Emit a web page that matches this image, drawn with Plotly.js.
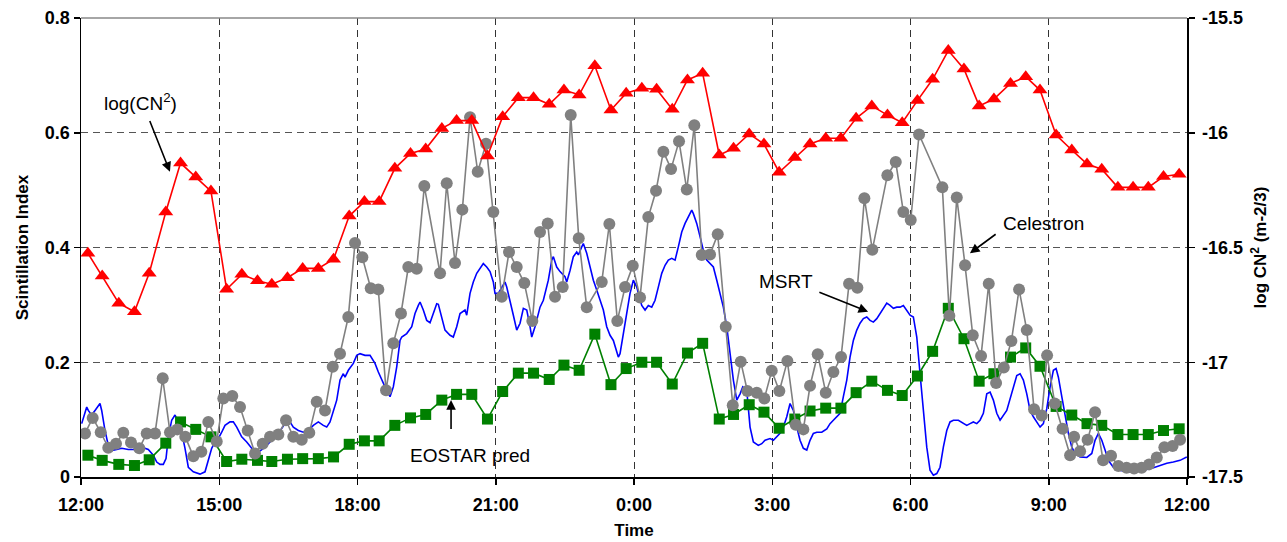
<!DOCTYPE html>
<html>
<head>
<meta charset="utf-8">
<script src="https://cdn.plot.ly/plotly-3.0.1.min.js"></script>
<style>
html,body{margin:0;padding:0;background:#fff;}
#chart{width:1287px;height:542px;}
</style>
</head>
<body>
<div id="chart"></div>
<script>
// ---- data (x = hours after 12:00) ----
var xTickVals = [0, 3, 6, 9, 12, 15, 18, 21, 24];
var xTickText = ["12:00", "15:00", "18:00", "21:00", "0:00", "3:00", "6:00", "9:00", "12:00"];
var y2TickVals = [-17.5, -17, -16.5, -16, -15.5];
var y2TickText = ["-17.5", "-17", "-16.5", "-16", "-15.5"];

var predTime = [0.15,0.46,0.82,1.16,1.48,1.84,2.16,2.49,2.82,3.16,3.49,3.83,4.14,4.48,4.81,5.15,5.48,5.82,6.15,6.47,6.81,7.15,7.48,7.83,8.15,8.48,8.82,9.15,9.49,9.82,10.16,10.48,10.81,11.15,11.50,11.83,12.17,12.49,12.83,13.16,13.49,13.85,14.16,14.50,14.82,15.15,15.49,15.82,16.16,16.49,16.82,17.16,17.50,17.82,18.15,18.48,18.82,19.16,19.49,19.81,20.17,20.50,20.81,21.16,21.50,21.83,22.15,22.50,22.83,23.16,23.49,23.83];

var logCn2 = [-16.525,-16.624,-16.743,-16.780,-16.612,-16.345,-16.132,-16.193,-16.254,-16.682,-16.617,-16.645,-16.660,-16.632,-16.591,-16.591,-16.551,-16.363,-16.300,-16.300,-16.155,-16.090,-16.071,-15.981,-15.947,-15.947,-16.101,-15.930,-15.847,-15.847,-15.876,-15.814,-15.835,-15.708,-15.901,-15.828,-15.806,-15.811,-15.898,-15.770,-15.741,-16.097,-16.068,-16.005,-16.049,-16.172,-16.108,-16.049,-16.024,-16.024,-15.937,-15.883,-15.923,-15.956,-15.860,-15.767,-15.642,-15.722,-15.883,-15.853,-15.785,-15.756,-15.814,-16.010,-16.075,-16.136,-16.159,-16.238,-16.238,-16.238,-16.191,-16.181];

var eostarPred = [0.038,0.029,0.022,0.020,0.030,0.059,0.096,0.083,0.070,0.027,0.031,0.029,0.027,0.031,0.032,0.032,0.035,0.057,0.063,0.063,0.090,0.103,0.109,0.134,0.144,0.144,0.101,0.149,0.181,0.181,0.170,0.195,0.186,0.249,0.161,0.189,0.200,0.200,0.162,0.216,0.233,0.101,0.109,0.126,0.113,0.085,0.101,0.115,0.120,0.120,0.147,0.167,0.151,0.142,0.176,0.219,0.294,0.241,0.167,0.180,0.209,0.225,0.193,0.123,0.108,0.093,0.090,0.074,0.074,0.074,0.081,0.084];

var celTime = [0.087,0.254,0.428,0.592,0.760,0.918,1.085,1.265,1.426,1.606,1.773,1.931,2.090,2.263,2.437,2.611,2.763,2.945,3.088,3.283,3.451,3.618,3.776,3.943,4.102,4.282,4.449,4.607,4.790,4.954,5.115,5.295,5.462,5.621,5.801,5.946,6.105,6.287,6.452,6.619,6.777,6.944,7.103,7.285,7.450,7.791,7.936,8.116,8.275,8.442,8.609,8.789,8.947,9.130,9.288,9.455,9.620,9.794,9.961,10.128,10.286,10.453,10.627,10.801,10.974,11.300,11.465,11.638,11.806,11.973,12.131,12.311,12.478,12.637,12.804,12.977,13.145,13.309,13.470,13.650,13.817,13.991,14.143,14.316,14.460,14.664,14.829,14.989,15.154,15.328,15.510,15.675,15.820,15.987,16.161,16.326,16.493,16.667,16.847,16.999,17.172,17.498,17.680,17.845,18.005,18.186,18.691,18.843,19.004,19.184,19.351,19.531,19.698,19.857,20.024,20.189,20.356,20.523,20.681,20.848,20.964,21.131,21.300,21.463,21.550,21.680,21.843,22.005,22.179,22.352,22.511,22.689,22.852,23.015,23.177,23.344,23.509,23.687,23.850];
var celestron = [0.076,0.103,0.078,0.051,0.058,0.077,0.060,0.050,0.076,0.076,0.172,0.078,0.083,0.070,0.036,0.044,0.096,0.062,0.137,0.141,0.122,0.081,0.041,0.058,0.070,0.074,0.099,0.070,0.065,0.077,0.131,0.116,0.192,0.215,0.279,0.408,0.383,0.329,0.327,0.151,0.233,0.285,0.366,0.363,0.507,0.355,0.512,0.373,0.466,0.627,0.532,0.581,0.462,0.314,0.392,0.366,0.338,0.272,0.427,0.442,0.314,0.331,0.631,0.416,0.296,0.340,0.441,0.272,0.331,0.368,0.313,0.453,0.499,0.567,0.537,0.585,0.501,0.613,0.387,0.388,0.423,0.262,0.125,0.201,0.150,0.147,0.137,0.185,0.150,0.202,0.091,0.083,0.159,0.214,0.147,0.183,0.209,0.337,0.330,0.486,0.396,0.526,0.549,0.462,0.448,0.597,0.505,0.281,0.487,0.369,0.247,0.211,0.337,0.164,0.191,0.237,0.327,0.256,0.118,0.107,0.212,0.128,0.084,0.038,0.070,0.045,0.065,0.113,0.029,0.037,0.019,0.016,0.015,0.016,0.022,0.034,0.052,0.054,0.065];

var msrtTime = [0.015,0.087,0.124,0.158,0.232,0.304,0.375,0.412,0.449,0.521,0.592,0.666,0.775,0.883,1.026,1.172,1.317,1.460,1.569,1.643,1.714,1.786,1.845,1.895,1.968,2.040,2.112,2.185,2.257,2.329,2.437,2.582,2.691,2.763,2.836,2.908,2.980,3.053,3.125,3.234,3.305,3.379,3.487,3.596,3.704,3.813,3.884,3.993,4.138,4.282,4.427,4.536,4.607,4.716,4.824,4.933,5.041,5.150,5.258,5.332,5.404,5.475,5.549,5.621,5.692,5.729,5.801,5.909,5.983,6.055,6.163,6.272,6.380,6.452,6.526,6.597,6.706,6.777,6.851,6.923,6.960,7.068,7.177,7.248,7.320,7.357,7.428,7.502,7.574,7.645,7.719,7.754,7.828,7.899,8.008,8.079,8.153,8.225,8.333,8.370,8.442,8.513,8.587,8.659,8.730,8.804,8.876,8.947,8.984,9.056,9.130,9.201,9.238,9.310,9.382,9.455,9.527,9.599,9.673,9.744,9.781,9.852,9.961,10.033,10.141,10.215,10.250,10.323,10.395,10.503,10.540,10.612,10.684,10.757,10.792,10.866,10.900,10.974,11.046,11.118,11.191,11.263,11.335,11.408,11.480,11.552,11.626,11.660,11.697,11.769,11.843,11.914,11.986,12.060,12.095,12.168,12.240,12.311,12.385,12.457,12.528,12.602,12.674,12.745,12.819,12.891,12.962,13.036,13.108,13.179,13.253,13.288,13.361,13.433,13.505,13.579,13.650,13.722,13.796,13.867,13.939,14.013,14.084,14.156,14.230,14.302,14.360,14.447,14.518,14.590,14.698,14.772,14.844,14.952,15.024,15.098,15.169,15.241,15.315,15.386,15.458,15.532,15.603,15.675,15.749,15.820,15.892,15.966,16.074,16.183,16.254,16.326,16.471,16.543,16.617,16.688,16.760,16.834,16.905,16.977,17.051,17.122,17.194,17.268,17.339,17.411,17.485,17.556,17.628,17.702,17.773,17.845,17.919,17.990,18.062,18.136,18.207,18.279,18.353,18.424,18.496,18.570,18.641,18.713,18.787,18.858,18.930,19.039,19.147,19.221,19.292,19.364,19.438,19.509,19.581,19.655,19.727,19.798,19.872,19.944,20.089,20.198,20.306,20.378,20.449,20.523,20.595,20.666,20.740,20.812,20.883,20.957,21.029,21.100,21.159,21.209,21.283,21.354,21.426,21.500,21.571,21.680,21.825,21.934,22.005,22.077,22.151,22.222,22.294,22.403,22.548,22.693,22.837,22.982,23.127,23.271,23.416,23.562,23.703,23.850,23.995];
var msrt = [0.093,0.111,0.122,0.116,0.108,0.116,0.125,0.128,0.116,0.081,0.055,0.046,0.048,0.050,0.048,0.048,0.052,0.048,0.038,0.026,0.022,0.022,0.032,0.070,0.099,0.108,0.096,0.078,0.050,0.017,0.009,0.005,0.009,0.032,0.050,0.061,0.067,0.078,0.090,0.096,0.096,0.087,0.070,0.061,0.050,0.041,0.045,0.052,0.064,0.076,0.093,0.096,0.087,0.081,0.078,0.081,0.090,0.096,0.090,0.087,0.096,0.116,0.134,0.169,0.180,0.174,0.186,0.198,0.212,0.215,0.212,0.212,0.198,0.183,0.169,0.157,0.140,0.157,0.192,0.238,0.244,0.250,0.262,0.285,0.299,0.305,0.291,0.273,0.269,0.285,0.302,0.301,0.279,0.256,0.247,0.244,0.262,0.285,0.291,0.282,0.320,0.340,0.355,0.363,0.372,0.366,0.358,0.340,0.320,0.320,0.331,0.340,0.331,0.308,0.282,0.256,0.268,0.294,0.291,0.262,0.244,0.262,0.296,0.308,0.343,0.378,0.384,0.366,0.358,0.349,0.340,0.360,0.384,0.392,0.387,0.401,0.407,0.390,0.366,0.343,0.326,0.308,0.291,0.262,0.247,0.238,0.215,0.209,0.215,0.250,0.291,0.320,0.343,0.331,0.320,0.299,0.291,0.299,0.296,0.308,0.331,0.355,0.369,0.378,0.381,0.378,0.401,0.427,0.442,0.453,0.465,0.459,0.442,0.419,0.395,0.378,0.372,0.366,0.343,0.320,0.296,0.262,0.215,0.169,0.134,0.145,0.157,0.151,0.087,0.061,0.055,0.058,0.064,0.067,0.064,0.070,0.076,0.087,0.105,0.128,0.116,0.087,0.064,0.050,0.047,0.064,0.076,0.078,0.078,0.084,0.093,0.099,0.111,0.140,0.169,0.209,0.238,0.256,0.268,0.276,0.279,0.273,0.270,0.276,0.285,0.296,0.303,0.299,0.294,0.296,0.296,0.299,0.291,0.282,0.279,0.244,0.180,0.122,0.052,0.012,0.003,0.006,0.017,0.052,0.081,0.096,0.099,0.099,0.093,0.090,0.093,0.096,0.093,0.099,0.111,0.145,0.148,0.134,0.111,0.099,0.116,0.145,0.177,0.180,0.169,0.145,0.116,0.105,0.096,0.087,0.093,0.119,0.157,0.186,0.189,0.174,0.140,0.105,0.076,0.052,0.041,0.035,0.034,0.041,0.064,0.076,0.064,0.047,0.029,0.017,0.012,0.009,0.009,0.012,0.013,0.016,0.020,0.024,0.026,0.029,0.035];

// ---- chart ----
var FONT = "Liberation Sans, Arial, sans-serif";

var traces = [
  {x: msrtTime, y: msrt, type: "scatter", mode: "lines", name: "MSRT",
   line: {color: "#0000ff", width: 1.6}},
  {x: predTime, y: eostarPred, type: "scatter", mode: "lines+markers", name: "EOSTAR pred",
   line: {color: "#008000", width: 1.6},
   marker: {symbol: "square", size: 11, color: "#008000"}},
  {x: celTime, y: celestron, type: "scatter", mode: "lines+markers", name: "Celestron",
   line: {color: "#808080", width: 1.6},
   marker: {symbol: "circle", size: 12, color: "#808080"}},
  {x: predTime, y: logCn2, type: "scatter", mode: "lines+markers", name: "log(CN2)",
   yaxis: "y2", line: {color: "#ff0000", width: 1.6},
   marker: {symbol: "triangle-up", size: 13, color: "#ff0000"}}
];

var annFont = {family: FONT, size: 19, color: "#000"};
function arrow(tx, ty, hx, hy) {
  return {x: hx, y: hy, ax: tx, ay: ty, xref: "x", yref: "y", axref: "x", ayref: "y",
          text: "", showarrow: true, arrowhead: 2, arrowsize: 1.2, arrowwidth: 1.6, arrowcolor: "#000"};
}
function label(t, x, y) {
  return {x: x, y: y, xref: "x", yref: "y", text: t, showarrow: false, font: annFont,
          xanchor: "center", yanchor: "middle"};
}

var tickFont = {family: FONT, size: 18, weight: "bold", color: "#000"};
var titleFont = {family: FONT, size: 17, color: "#000"};

var layout = {
  width: 1287, height: 542,
  margin: {l: 81, r: 100, t: 18, b: 65},
  paper_bgcolor: "#fff", plot_bgcolor: "#fff",
  showlegend: false, hovermode: false,
  font: {family: FONT, color: "#000"},
  xaxis: {
    range: [0, 24], tickvals: xTickVals, ticktext: xTickText,
    showgrid: true, gridcolor: "#333", gridwidth: 1, griddash: "7px,5px",
    zeroline: false, showline: true, linecolor: "#000", linewidth: 1.5,
    ticks: "outside", ticklen: 6, tickcolor: "#000", tickwidth: 1.5,
    ticklabelstandoff: 5,
    tickfont: tickFont,
    title: {text: "<b>Time</b>", font: titleFont, standoff: 10},
    automargin: false
  },
  yaxis: {
    range: [0, 0.8], dtick: 0.2, tick0: 0,
    showgrid: true, gridcolor: "#555", gridwidth: 1, griddash: "7px,5px",
    zeroline: false, showline: true, linecolor: "#000", linewidth: 1.5,
    ticks: "outside", ticklen: 6, tickcolor: "#000", tickwidth: 1.5,
    tickfont: tickFont,
    title: {text: "<b>Scintillation Index</b>", font: titleFont, standoff: 12},
    automargin: false
  },
  yaxis2: {
    overlaying: "y", side: "right",
    range: [-17.5, -15.5], tickvals: y2TickVals, ticktext: y2TickText,
    showgrid: false, zeroline: false, showline: true, linecolor: "#000", linewidth: 1.5,
    ticks: "outside", ticklen: 6, tickcolor: "#000", tickwidth: 1.5,
    ticklabelstandoff: 4,
    tickfont: tickFont,
    title: {text: "<b>log CN<sup>2</sup> (m-2/3)</b>", font: titleFont, standoff: 12},
    automargin: false
  },
  shapes: [
    {type: "line", xref: "paper", yref: "paper", x0: 0, x1: 1, y0: 1, y1: 1,
     line: {color: "#888", width: 1.5}}
  ],
  annotations: [
    label("log(CN<sup>2</sup>)", 1.30, 0.653),
    arrow(1.48, 0.623, 1.93, 0.532),
    label("EOSTAR pred", 8.44, 0.038),
    arrow(8.03, 0.081, 8.03, 0.134),
    label("MSRT", 15.30, 0.341),
    arrow(15.99, 0.323, 17.08, 0.288),
    label("Celestron", 20.88, 0.442),
    arrow(19.88, 0.425, 19.29, 0.390)
  ]
};

Plotly.newPlot("chart", traces, layout, {staticPlot: true, displayModeBar: false});
</script>
</body>
</html>
